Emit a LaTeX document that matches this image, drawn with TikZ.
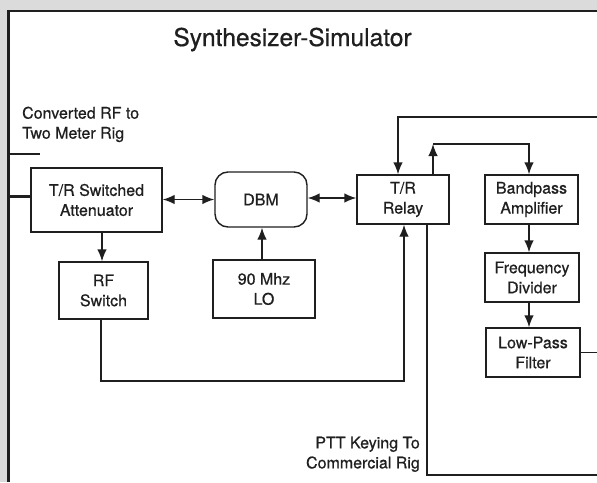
\documentclass[tikz,border=0pt]{standalone}
\usepackage{fontspec}
\setmainfont{TeX Gyre Heros}[FakeBold=0.6]
\usetikzlibrary{arrows.meta,calc}
\definecolor{ink}{gray}{0.12}
\begin{document}
\begin{tikzpicture}[x=1pt,y=-1pt,
  blk/.style={draw=ink,line width=1.4pt,align=center,inner sep=0pt,
    font=\fontsize{16}{20}\selectfont,text=ink},
  lbl/.style={align=left,inner sep=0pt,font=\fontsize{16}{20}\selectfont,text=ink},
  wire/.style={draw=ink,line width=1.4pt},
  arr/.style={wire,-{Latex[length=12pt,width=9.5pt]}},
  darr/.style={wire,{Latex[length=12pt,width=9.5pt]}-{Latex[length=12pt,width=9.5pt]}}]
\useasboundingbox (0,0) rectangle (597,482);
\fill[gray!28] (0,0) rectangle (597,482);
\fill[white] (8,11) rectangle (597,482);
\draw[ink,line width=3pt] (8.5,10) -- (8.5,482);
\draw[ink,line width=2pt] (7,11) -- (597,11);

\node[inner sep=0pt,anchor=base,font=\fontsize{24.5}{28}\selectfont,text=ink] (title) at (292.5,46) {Synthesizer-Simulator};
\node[lbl,anchor=north west] (conv) at (22,106.5) {Converted RF to\\Two Meter Rig};
\node[lbl,anchor=north east,align=right] (ptt) at (420,436.5) {PTT Keying To\\Commercial Rig};

\node[blk,minimum width=131pt,minimum height=64pt] (att) at (96.5,200) {T/R Switched\\Attenuator};
\node[blk,minimum width=92pt,minimum height=55pt,rounded corners=13pt] (dbm) at (261,199.5) {DBM};
\node[blk,minimum width=92pt,minimum height=49pt] (relay) at (403,199.5) {T/R\\Relay};
\node[blk,minimum width=93pt,minimum height=49pt] (bp) at (531.5,199.5) {Bandpass\\Amplifier};
\node[blk,minimum width=94pt,minimum height=49pt] (fd) at (532,277.5) {Frequency\\Divider};
\node[blk,minimum width=94pt,minimum height=49pt] (lp) at (533,352.5) {Low-Pass\\Filter};
\node[blk,minimum width=89pt,minimum height=57pt] (rfsw) at (103.5,290.5) {RF\\Switch};
\node[blk,minimum width=102pt,minimum height=58pt] (lo) at (264,289) {90 Mhz\\LO};

\coordinate (lb1) at (8,154);
\coordinate (lb1e) at (40,154);
\coordinate (lb2) at (8,196);
\draw[wire] (lb1) -- (lb1e);
\draw[ink,line width=3pt] (lb2) -- (att.west |- lb2);

\draw[darr] (att.east |- 0,199.5) -- (dbm.west |- 0,199.5);
\draw[darr] (dbm.east |- 0,198) -- (relay.west |- 0,198);
\draw[arr] (att.south -| 102,0) -- (rfsw.north -| 102,0);
\draw[arr] (lo.north -| 262,0) -- (dbm.south -| 262,0);
\draw[arr] (rfsw.south -| 101,0) |- (404,381) -- (relay.south -| 404,0);
\draw[wire] (relay.south -| 427,0) |- (610,475);

\coordinate (top1) at (433,144);
\draw[arr] (relay.north -| top1) -- (top1);
\draw[arr] (top1) -| (bp.north -| 529,0);
\draw[arr] (bp.south -| 529,0) -- (fd.north -| 529,0);
\draw[arr] (fd.south -| 529,0) -- (lp.north -| 529,0);
\draw[arr] (lp.east) -- (610,352.5) |- (398,117) -- (relay.north -| 398,0);
\end{tikzpicture}
\end{document}
